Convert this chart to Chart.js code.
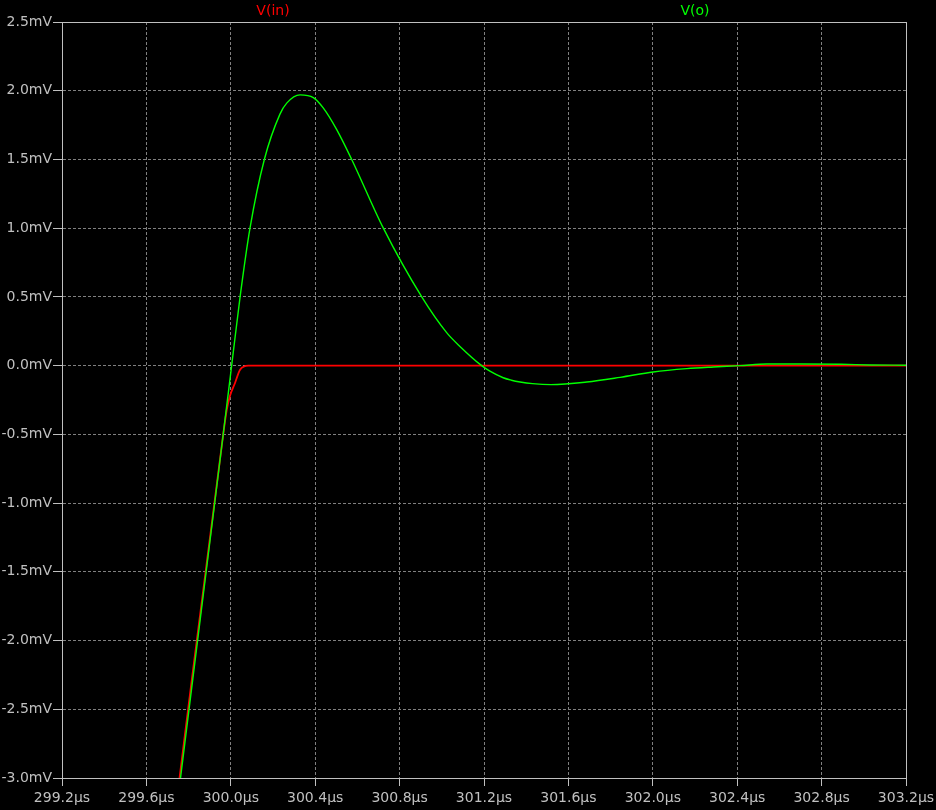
<!DOCTYPE html>
<html>
<head>
<meta charset="utf-8">
<script src="https://cdn.jsdelivr.net/npm/chart.js@4/dist/chart.umd.min.js"></script>
<style>
  html, body { margin: 0; padding: 0; background: #000; }
  canvas { display: block; }
</style>
</head>
<body>
<canvas id="plot" width="936" height="810"></canvas>
<script>
// time in µs, voltage in mV
const vinTime = [299.70, 299.757, 299.964, 299.981, 299.996, 300.02, 300.044, 300.083, 303.2];
const vinVal  = [-3.70, -3.0, -0.5, -0.32, -0.22, -0.126, -0.03, 0.0, 0.0];

const voTime = [299.70, 299.7616, 299.964, 300.004, 300.044, 300.091, 300.159, 300.233, 300.265,
                300.328, 300.391, 300.438, 300.502, 300.573, 300.723, 300.905, 301.023, 301.086,
                301.189, 301.228, 301.291, 301.33, 301.371, 301.43, 301.518, 301.687, 301.845,
                302.002, 302.161, 302.287, 302.413, 302.541, 302.698, 302.892, 303.03, 303.2];
const voVal  = [-3.77, -3.0, -0.5, 0.0, 0.5, 1.0, 1.5, 1.83, 1.91,
                1.97, 1.95, 1.875, 1.717, 1.5, 1.0, 0.5, 0.24, 0.14,
                0.0, -0.04, -0.088, -0.106, -0.119, -0.131, -0.138, -0.119, -0.085,
                -0.046, -0.022, -0.01, 0.0, 0.012, 0.012, 0.01, 0.005, 0.003];

const xTicks = [299.2, 299.6, 300.0, 300.4, 300.8, 301.2, 301.6, 302.0, 302.4, 302.8, 303.2];
const yTicks = [-3.0, -2.5, -2.0, -1.5, -1.0, -0.5, 0.0, 0.5, 1.0, 1.5, 2.0, 2.5];

const pts = (xs, ys) => xs.map((x, i) => ({x: x, y: ys[i]}));

const labelFont = {family: 'DejaVu Sans', size: 14};
const gray = '#c0c0c0';

// frame box + trace names above the plot
const frame = {
  id: 'frame',
  afterDraw(chart) {
    const {ctx, chartArea: a} = chart;
    ctx.save();
    ctx.strokeStyle = gray;
    ctx.lineWidth = 1;
    ctx.strokeRect(a.left + 0.5, a.top + 0.5, a.right - a.left, a.bottom - a.top);
    ctx.font = '14px "DejaVu Sans"';
    ctx.textAlign = 'center';
    ctx.textBaseline = 'middle';
    ctx.fillStyle = '#ff0000';
    ctx.fillText('V(in)', 273, 11);
    ctx.fillStyle = '#00ff00';
    ctx.fillText('V(o)', 695, 11);
    ctx.restore();
  }
};

new Chart(document.getElementById('plot'), {
  type: 'line',
  data: {
    datasets: [
      {
        label: 'V(o)',
        data: pts(voTime, voVal),
        borderColor: '#00ff00',
        borderWidth: 1.4,
        pointRadius: 0,
        cubicInterpolationMode: 'monotone',
        order: 0
      },
      {
        label: 'V(in)',
        data: pts(vinTime, vinVal),
        borderColor: '#ff0000',
        borderWidth: 1.8,
        pointRadius: 0,
        cubicInterpolationMode: 'monotone',
        order: 1
      }
    ]
  },
  options: {
    responsive: false,
    animation: false,
    layout: {padding: {top: 22, right: 30, left: 0, bottom: 0}},
    plugins: {legend: {display: false}, tooltip: {enabled: false}},
    scales: {
      x: {
        type: 'linear',
        min: 299.2,
        max: 303.2,
        afterBuildTicks: ax => { ax.ticks = xTicks.map(v => ({value: v})); },
        afterFit: ax => { ax.height = 32; ax.paddingLeft = 0; ax.paddingRight = 0; },
        ticks: {
          color: gray, font: labelFont, padding: 4, maxRotation: 0, autoSkip: false,
          callback: v => v.toFixed(1) + 'µs'
        },
        grid: {color: '#808080', tickColor: gray, tickLength: 8, tickBorderDash: []},
        border: {color: gray, dash: [3, 2]}
      },
      y: {
        min: -3.0,
        max: 2.5,
        afterBuildTicks: ax => { ax.ticks = yTicks.map(v => ({value: v})); },
        afterFit: ax => { ax.width = 62; ax.paddingTop = 0; ax.paddingBottom = 0; },
        ticks: {
          color: gray, font: labelFont, padding: 1, autoSkip: false,
          callback: v => v.toFixed(1) + 'mV'
        },
        grid: {color: '#808080', tickColor: gray, tickLength: 9, tickBorderDash: []},
        border: {color: gray, dash: [3, 2]}
      }
    }
  },
  plugins: [frame]
});
</script>
</body>
</html>
